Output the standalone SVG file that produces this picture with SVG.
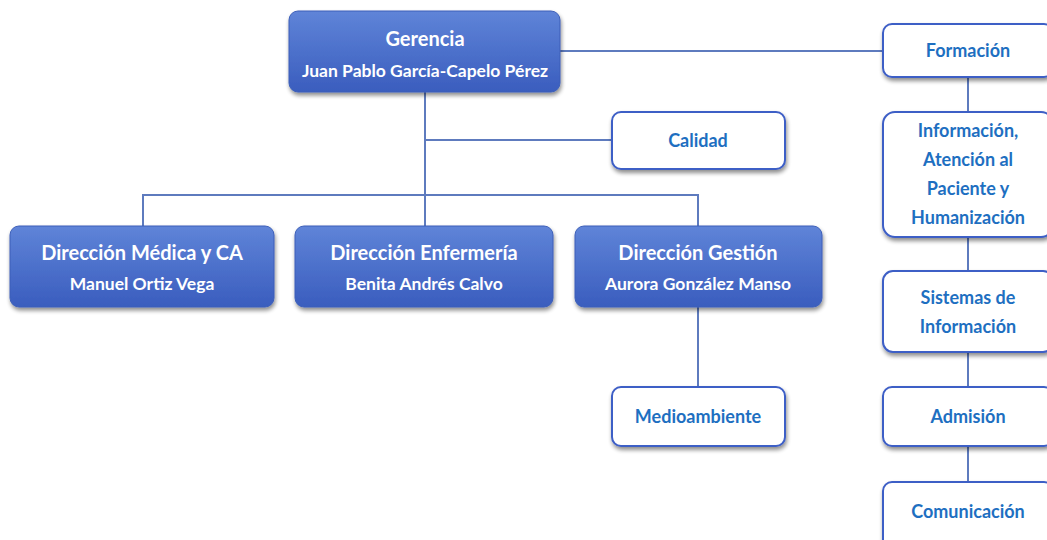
<svg xmlns="http://www.w3.org/2000/svg" width="1047" height="540" viewBox="0 0 1047 540">
<defs>
<linearGradient id="dg" x1="0" y1="0" x2="0" y2="1">
<stop offset="0" stop-color="#5F84D8"/>
<stop offset="1" stop-color="#3A5DBE"/>
</linearGradient>
<filter id="sh" x="-10%" y="-10%" width="120%" height="130%">
<feGaussianBlur in="SourceAlpha" stdDeviation="2"/>
<feOffset dx="1" dy="3" result="b"/>
<feComponentTransfer><feFuncA type="linear" slope="0.45"/></feComponentTransfer>
<feMerge><feMergeNode/><feMergeNode in="SourceGraphic"/></feMerge>
</filter>
</defs>
<style>
.dark{fill:url(#dg);stroke:#3D5FB8;stroke-width:1;filter:url(#sh)}
.light{fill:#fff;stroke:#3E5EC6;stroke-width:2;filter:url(#sh)}
.t1{font-family:Lato,"Open Sans",sans-serif;font-weight:bold;font-size:20px;fill:#fff;text-anchor:middle}
.t2{font-family:Lato,"Open Sans",sans-serif;font-weight:bold;font-size:17.5px;fill:#fff;text-anchor:middle}
.tl{font-family:Lato,"Open Sans",sans-serif;font-weight:bold;font-size:18px;fill:#1E6FC1;text-anchor:middle}
.c{fill:none;stroke:#5E7BBE;stroke-width:2}
</style>
<rect width="1047" height="540" fill="#fff"/>
<g id="connectors">
<path class="c" d="M560 51H883"/>
<path class="c" d="M425 92V195"/>
<path class="c" d="M425 140H612"/>
<path class="c" d="M143 226V195H698V226"/>
<path class="c" d="M425 195V226"/>
<path class="c" d="M698 307V387"/>
<path class="c" d="M968 77V112M968 237V271M968 352V387M968 446V482"/>
</g>
<g id="gerencia">
<rect class="dark" x="289" y="11" width="271" height="81" rx="9"/>
<text class="t1" x="425" y="46">Gerencia</text>
<text class="t2" x="425" y="77">Juan Pablo García-Capelo Pérez</text>
</g>
<g id="formacion">
<rect class="light" x="883" y="24" width="170" height="53" rx="9"/>
<text class="tl" x="968" y="57">Formación</text>
</g>
<g id="informacion">
<rect class="light" x="883" y="112" width="170" height="125" rx="12"/>
<text class="tl" x="968" y="137">Información,</text>
<text class="tl" x="968" y="166">Atención al</text>
<text class="tl" x="968" y="195">Paciente y</text>
<text class="tl" x="968" y="224">Humanización</text>
</g>
<g id="sistemas">
<rect class="light" x="883" y="271" width="170" height="81" rx="10"/>
<text class="tl" x="968" y="304">Sistemas de</text>
<text class="tl" x="968" y="333">Información</text>
</g>
<g id="admision">
<rect class="light" x="883" y="387" width="170" height="59" rx="9"/>
<text class="tl" x="968" y="423">Admisión</text>
</g>
<g id="comunicacion">
<rect class="light" x="883" y="482" width="170" height="70" rx="9"/>
<text class="tl" x="968" y="518">Comunicación</text>
</g>
<g id="calidad">
<rect class="light" x="612" y="112" width="173" height="57" rx="9"/>
<text class="tl" x="698" y="147">Calidad</text>
</g>
<g id="dir-medica">
<rect class="dark" x="10" y="226" width="264" height="81" rx="9"/>
<text class="t1" x="142" y="260">Dirección Médica y CA</text>
<text class="t2" x="142" y="290">Manuel Ortiz Vega</text>
</g>
<g id="dir-enfermeria">
<rect class="dark" x="295" y="226" width="258" height="81" rx="9"/>
<text class="t1" x="424" y="260">Dirección Enfermería</text>
<text class="t2" x="424" y="290">Benita Andrés Calvo</text>
</g>
<g id="dir-gestion">
<rect class="dark" x="575" y="226" width="247" height="81" rx="9"/>
<text class="t1" x="698" y="260">Dirección Gestión</text>
<text class="t2" x="698" y="290">Aurora González Manso</text>
</g>
<g id="medioambiente">
<rect class="light" x="612" y="387" width="173" height="59" rx="9"/>
<text class="tl" x="698" y="423">Medioambiente</text>
</g>
</svg>
